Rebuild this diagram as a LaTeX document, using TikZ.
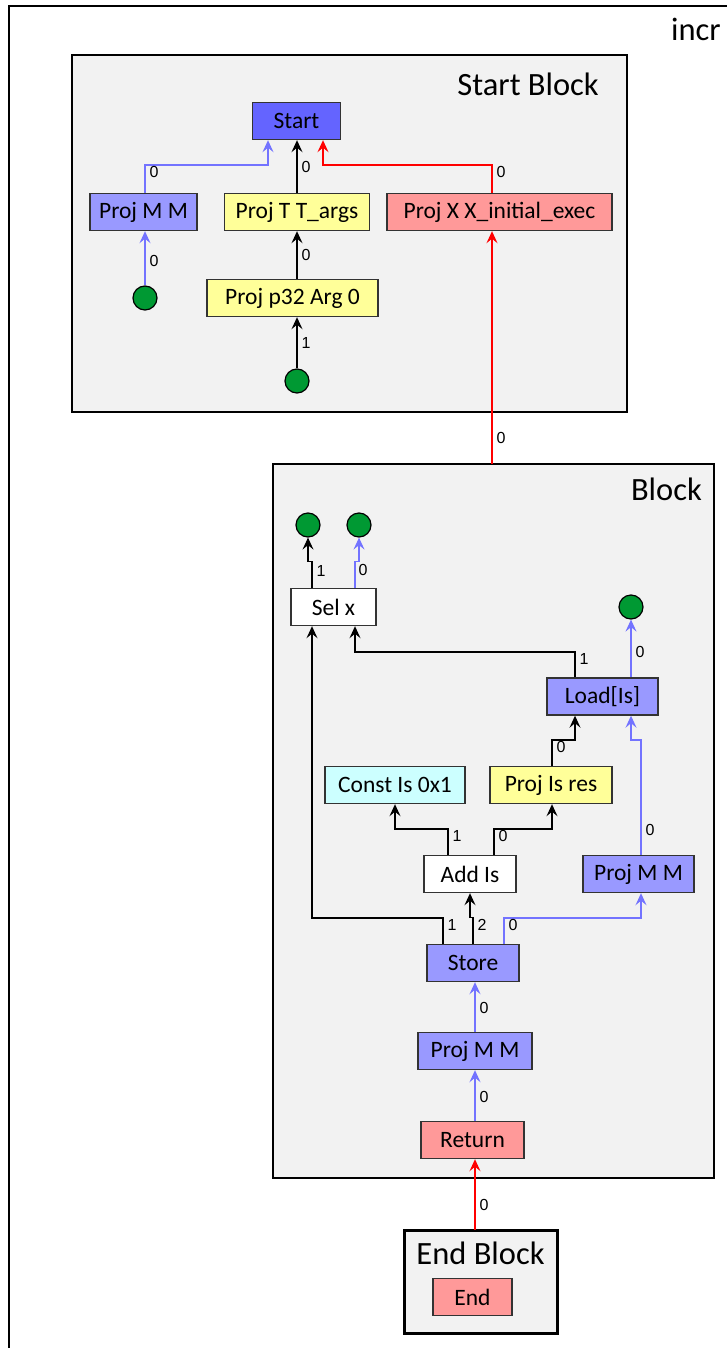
\documentclass[tikz,border=0pt]{standalone}
\usepackage{fontspec}
\setmainfont{Carlito}
\newfontfamily\lblfont{Liberation Sans}
\usetikzlibrary{arrows.meta}

\definecolor{blockbg}{HTML}{F2F2F2}
\definecolor{startblue}{HTML}{6464FF}
\definecolor{memblue}{HTML}{9999FF}
\definecolor{projyellow}{HTML}{FFFF99}
\definecolor{ctrlred}{HTML}{FF9999}
\definecolor{constcyan}{HTML}{CCFFFF}
\definecolor{dotgreen}{HTML}{009933}
\definecolor{memedge}{HTML}{7373FF}
\definecolor{nodeborder}{HTML}{333333}

\tikzset{
  irnode/.style={draw=nodeborder, line width=1.4pt, minimum height=37pt,
    inner sep=0pt, font=\fontsize{23.5}{28}\selectfont},
  dot/.style={circle, draw=black, line width=1.2pt, fill=dotgreen,
    minimum size=24pt, inner sep=0pt},
  blockframe/.style={draw=black, line width=2.4pt, fill=blockbg},
  blocktitle/.style={font=\fontsize{32.5}{38}\selectfont, inner sep=0pt},
  lbl/.style={font=\lblfont\fontsize{16}{18}\selectfont, inner sep=0pt},
  tip/.style={-{Stealth[length=12pt,width=11pt,inset=4.5pt]}},
  dataedge/.style={draw=black, line width=1.3pt, tip},
  memoryedge/.style={draw=memedge, line width=1.3pt, tip},
  ctrledge/.style={draw=red, line width=1.3pt, tip},
}

\begin{document}
\begin{tikzpicture}[x=1pt, y=-1pt]
\useasboundingbox (0,0) rectangle (726,1348);

% outer graph frame
\draw[line width=2.2pt] (9,1400) -- (9,6) -- (800,6);
\node[blocktitle, anchor=west] (graphtitle) at (671,29) {incr};

% ---------------- Start Block ----------------
\draw[blockframe] (72,55) rectangle (627,412);
\node[blocktitle, anchor=east] (sbtitle) at (599,84) {Start Block};

\node[irnode, fill=startblue, minimum width=88pt] (start) at (296.5,121) {Start};
\node[irnode, fill=memblue, minimum width=107pt] (pmmA) at (143.5,212) {Proj M M};
\node[irnode, fill=projyellow, minimum width=145pt] (ptt) at (297,212) {Proj T T\_args};
\node[irnode, fill=ctrlred, minimum width=225pt] (pxx) at (499.5,212) {Proj X X\_initial\_exec};
\node[irnode, fill=projyellow, minimum width=171pt] (parg) at (292.5,298) {Proj p32 Arg 0};
\node[dot] (dotA) at (145,298) {};
\node[dot] (dotB) at (297,381) {};

\draw[memoryedge] ([xshift=1.5pt]pmmA.north) -- ([xshift=1.5pt]pmmA.north |- 0,165) -| ([xshift=-28.5pt]start.south)
  node[lbl] at (154,172) {0};
\draw[dataedge] (ptt.north) -- ([xshift=0.5pt]start.south)
  node[lbl] at (306,167) {0};
\draw[ctrledge] ([xshift=-7.5pt]pxx.north) -- ([xshift=-7.5pt]pxx.north |- 0,165) -| ([xshift=26.5pt]start.south)
  node[lbl] at (501,172) {0};
\draw[memoryedge] (dotA) -- ([xshift=1.5pt]pmmA.south)
  node[lbl] at (154,261) {0};
\draw[dataedge] ([xshift=4.5pt]parg.north) -- (ptt.south)
  node[lbl] at (306,255) {0};
\draw[dataedge] (dotB) -- ([xshift=4.5pt]parg.south)
  node[lbl] at (306,343) {1};

% ---------------- Block ----------------
\draw[blockframe] (273,464) rectangle (714,1178);
\node[blocktitle, anchor=east] (btitle) at (702,489) {Block};
\coordinate (blocktop) at (492,464);

\node[dot] (dotC) at (308,525) {};
\node[dot] (dotD) at (359,525) {};
\node[dot] (dotE) at (631,607) {};
\node[irnode, fill=white, minimum width=85pt] (sel) at (333.5,607) {Sel x};
\node[irnode, fill=memblue, minimum width=111pt] (load) at (602.5,696.5) {Load[Is]};
\node[irnode, fill=constcyan, minimum width=140pt] (const) at (395,785) {Const Is 0x1};
\node[irnode, fill=projyellow, minimum width=122pt] (pres) at (551,785) {Proj Is res};
\node[irnode, fill=white, minimum width=92pt] (add) at (470,874) {Add Is};
\node[irnode, fill=memblue, minimum width=111pt] (pmmB) at (638.5,874) {Proj M M};
\node[irnode, fill=memblue, minimum width=92pt] (store) at (473,963) {Store};
\node[irnode, fill=memblue, minimum width=114pt] (pmmC) at (475,1051) {Proj M M};
\node[irnode, fill=ctrlred, minimum width=103pt] (ret) at (472.5,1140) {Return};

\draw[ctrledge] (blocktop) -- ([xshift=-7.5pt]pxx.south)
  node[lbl] at (501,438) {0};

\draw[dataedge] ([xshift=-21.5pt]sel.north) -- ++(0,-26) -- ++(-4,0) -- (dotC)
  node[lbl] at (321,571) {1};
\draw[memoryedge] ([xshift=21.5pt]sel.north) -- ++(0,-26) -- ++(4,0) -- (dotD)
  node[lbl] at (363,570) {0};
\draw[dataedge] ([xshift=-27.5pt]load.north) -- ([xshift=-27.5pt]load.north |- 0,652) -| ([xshift=21.5pt]sel.south)
  node[lbl] at (584,659) {1};
\draw[memoryedge] ([xshift=28.5pt]load.north) -- (dotE)
  node[lbl] at (640,652) {0};
\draw[dataedge] ([xshift=1pt]pres.north) -- ([xshift=1pt]pres.north |- 0,740) -| ([xshift=-27.5pt]load.south)
  node[lbl] at (561,747) {0};
\draw[memoryedge] ([xshift=2.5pt]pmmB.north) -- ([xshift=2.5pt]pmmB.north |- 0,740) -| ([xshift=28.5pt]load.south)
  node[lbl] at (650,830) {0};
\draw[dataedge] ([xshift=-22pt]add.north) -- ([xshift=-22pt]add.north |- 0,829) -| (const.south)
  node[lbl] at (457,836) {1};
\draw[dataedge] ([xshift=24pt]add.north) -- ([xshift=24pt]add.north |- 0,829) -| ([xshift=1pt]pres.south)
  node[lbl] at (503,836) {0};
\draw[dataedge] ([xshift=-30pt]store.north) -- ([xshift=-30pt]store.north |- 0,918) -| ([xshift=-21.5pt]sel.south)
  node[lbl] at (452,925) {1};
\draw[dataedge] (store.north) -- ++(0,-26) -- ++(-3,0) -- (add.south)
  node[lbl] at (482,925) {2};
\draw[memoryedge] ([xshift=31pt]store.north) -- ([xshift=31pt]store.north |- 0,918) -| ([xshift=2.5pt]pmmB.south)
  node[lbl] at (513,925) {0};
\draw[memoryedge] (pmmC.north) -- ([xshift=2pt]store.south)
  node[lbl] at (484,1008) {0};
\draw[memoryedge] ([xshift=2.5pt]ret.north) -- (pmmC.south)
  node[lbl] at (484,1097) {0};

% ---------------- End Block ----------------
\draw[blockframe, line width=3pt] (404,1230) rectangle (557,1333);
\node[blocktitle] (ebtitle) at (480.5,1253) {End Block};
\node[irnode, fill=ctrlred, minimum width=79pt] (endn) at (472.5,1297) {End};
\coordinate (endtop) at (475,1230);

\draw[ctrledge] (endtop) -- ([xshift=2.5pt]ret.south)
  node[lbl] at (484,1205) {0};
\end{tikzpicture}
\end{document}
